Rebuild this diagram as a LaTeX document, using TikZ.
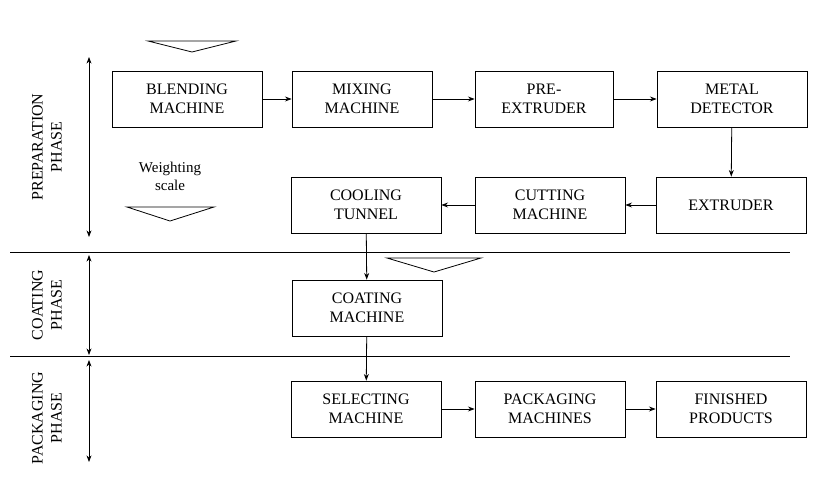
\documentclass[tikz,border=0pt]{standalone}
\usepackage{fontspec}
\setmainfont{Liberation Serif}
\usetikzlibrary{arrows.meta}

\begin{document}
\begin{tikzpicture}[x=1pt,y=-1pt,>={Stealth[black]},
    box/.style={draw,thick,minimum width=150pt,minimum height=56pt,align=center,
                font=\fontsize{16}{19}\selectfont},
    phase/.style={rotate=90,align=center,font=\fontsize{16}{19}\selectfont},
    tri/.style={draw,thick}]
\useasboundingbox (0,0) rectangle (820,485);

\begin{scope}
    \node[box] (blend) at (187,99) {BLENDING\\MACHINE};
    \node[box,minimum width=140pt] (mix) at (362,99) {MIXING\\MACHINE};
    \node[box,minimum width=138pt] (pre) at (544,99) {PRE-\\EXTRUDER};
    \node[box] (metal) at (732,99) {METAL\\DETECTOR};
    \node[box] (cool) at (366,205) {COOLING\\TUNNEL};
    \node[box] (cut) at (550,205) {CUTTING\\MACHINE};
    \node[box] (extr) at (731,205) {EXTRUDER};
    \node[box] (coat) at (367,308) {COATING\\MACHINE};
    \node[box] (sel) at (366,409) {SELECTING\\MACHINE};
    \node[box] (pack) at (550,409) {PACKAGING\\MACHINES};
    \node[box] (fin) at (731,409) {FINISHED\\PRODUCTS};
\end{scope}

\begin{scope}[thick]
    \draw[->] (blend) -- (mix);
    \draw[->] (mix) -- (pre);
    \draw[->] (pre) -- (metal);
    \draw[->] (metal) -- (extr);
    \draw[->] (extr) -- (cut);
    \draw[->] (cut) -- (cool);
    \draw[->] (cool) -- (coat);
    \draw[->] (coat) -- (sel);
    \draw[->] (sel) -- (pack);
    \draw[->] (pack) -- (fin);
\end{scope}

% phase separators
\draw[thick] (10,252) -- (790,252);
\draw[thick] (10,356) -- (790,356);

% phase arrows
\coordinate (p1a) at (89,57);  \coordinate (p1b) at (89,237);
\coordinate (p2a) at (89,255); \coordinate (p2b) at (89,355);
\coordinate (p3a) at (89,360); \coordinate (p3b) at (89,462);
\draw[thick,<->] (p1a) -- (p1b);
\draw[thick,<->] (p2a) -- (p2b);
\draw[thick,<->] (p3a) -- (p3b);

\node[phase] (prep) at (47,147) {PREPARATION\\PHASE};
\node[phase] (coatp) at (47,305) {COATING\\PHASE};
\node[phase] (packp) at (47,418) {PACKAGING\\PHASE};

% scales
\draw[tri] (148,41) -- (236,41) -- (192,52) -- cycle;
\draw[tri] (127,207) -- (214,207) -- (170,221) -- cycle;
\draw[tri] (387,258) -- (481,258) -- (434,272) -- cycle;
\node[align=center,font=\fontsize{15}{18}\selectfont] (weigh) at (170,176) {Weighting\\scale};
\end{tikzpicture}
\end{document}
